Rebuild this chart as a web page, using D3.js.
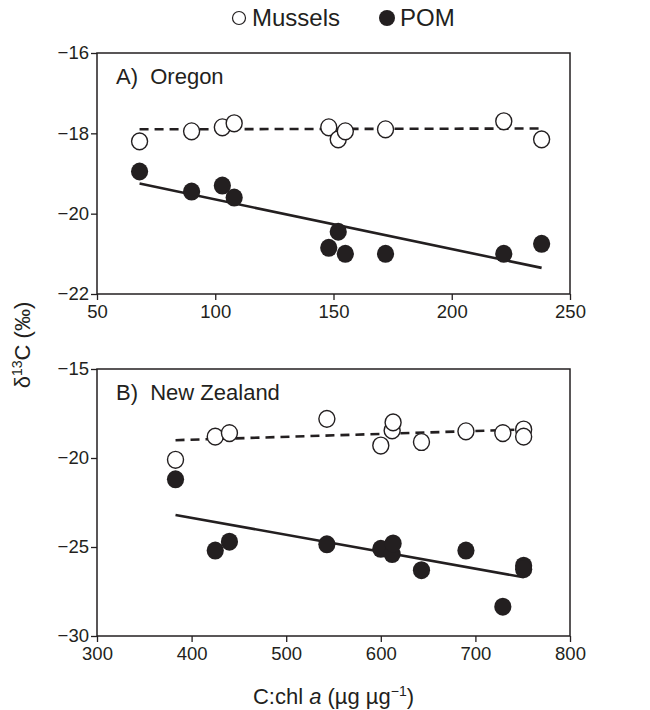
<!DOCTYPE html>
<html>
<head>
<meta charset="utf-8">
<script src="https://cdn.jsdelivr.net/npm/d3@7"></script>
<style>
  body { margin: 0; background: #fff; }
  text { font-family: "Liberation Sans", Arial, sans-serif; fill: #231f20; }
</style>
</head>
<body>
<div id="chart"></div>
<script>
// Panel A: Oregon
var orX = [68, 90, 103, 108, 148, 152, 155, 172, 222, 238];
var orMussels = [-18.2, -17.95, -17.85, -17.75, -17.85, -18.15, -17.95, -17.9, -17.7, -18.15];
var orPOM = [-18.95, -19.45, -19.3, -19.6, -20.85, -20.45, -21.0, -21.0, -21.0, -20.75];
var orMusselFit = [[68, -17.9], [238, -17.88]];
var orPOMFit = [[68, -19.25], [238, -21.35]];

// Panel B: New Zealand
var nzX = [383, 425, 440, 543, 600, 612, 613, 643, 690, 729, 751, 751];
var nzMussels = [-20.1, -18.8, -18.6, -17.8, -19.3, -18.45, -18.0, -19.1, -18.5, -18.6, -18.4, -18.8];
var nzPOM = [-21.2, -25.2, -24.7, -24.85, -25.1, -25.4, -24.8, -26.3, -25.2, -28.35, -26.05, -26.25];
var nzMusselFit = [[383, -19.0], [751, -18.4]];
var nzPOMFit = [[383, -23.2], [751, -26.7]];

var orXTicks = [50, 100, 150, 200, 250];
var orYTicks = [-16, -18, -20, -22];
var nzXTicks = [300, 400, 500, 600, 700, 800];
var nzYTicks = [-15, -20, -25, -30];

var width = 650, height = 710;
var left = 97, right = 570;

var svg = d3.select("#chart").append("svg")
  .attr("width", width)
  .attr("height", height);

function drawPanel(opts) {
  var x = d3.scaleLinear().domain(opts.xDomain).range([left, right]);
  var y = d3.scaleLinear().domain(opts.yDomain).range([opts.bottom, opts.top]);
  var g = svg.append("g");

  // frame
  g.append("rect")
    .attr("x", left).attr("y", opts.top)
    .attr("width", right - left).attr("height", opts.bottom - opts.top)
    .attr("fill", "none").attr("stroke", "#231f20").attr("stroke-width", 1.5);

  var xAxis = g.append("g")
    .attr("transform", "translate(0," + opts.bottom + ")")
    .call(d3.axisBottom(x).tickValues(opts.xTicks).tickSize(6).tickPadding(5).tickFormat(d3.format("d")));
  var yAxis = g.append("g")
    .attr("transform", "translate(" + left + ",0)")
    .call(d3.axisLeft(y).tickValues(opts.yTicks).tickSize(6).tickPadding(2)
      .tickFormat(function (d) { return "\u2212" + Math.abs(d); }));
  [xAxis, yAxis].forEach(function (a) {
    a.select(".domain").remove();
    a.selectAll("line").attr("stroke", "#231f20").attr("stroke-width", 1.3);
    a.selectAll("text").attr("font-size", "18.5px").style("fill", "#231f20")
      .style("font-family", "'Liberation Sans', Arial, sans-serif");
  });

  // panel label
  g.append("text")
    .attr("x", left + 19).attr("y", opts.top + 31)
    .attr("font-size", "22px")
    .attr("xml:space", "preserve")
    .text(opts.label);

  var line = d3.line().x(function (d) { return x(d[0]); }).y(function (d) { return y(d[1]); });

  g.append("path").datum(opts.musselFit)
    .attr("d", line).attr("fill", "none").attr("stroke", "#231f20")
    .attr("stroke-width", 2.6).attr("stroke-dasharray", "9,6");
  g.append("path").datum(opts.pomFit)
    .attr("d", line).attr("fill", "none").attr("stroke", "#231f20")
    .attr("stroke-width", 2.6);

  var mussels = opts.xs.map(function (v, i) { return [v, opts.mussels[i]]; });
  var pom = opts.xs.map(function (v, i) { return [v, opts.pom[i]]; });

  g.selectAll(".mussel").data(mussels).enter().append("ellipse")
    .attr("cx", function (d) { return x(d[0]); })
    .attr("cy", function (d) { return y(d[1]); })
    .attr("rx", 8).attr("ry", 8.4)
    .attr("fill", "#fff").attr("stroke", "#231f20").attr("stroke-width", 1.4);

  g.selectAll(".pom").data(pom).enter().append("ellipse")
    .attr("cx", function (d) { return x(d[0]); })
    .attr("cy", function (d) { return y(d[1]); })
    .attr("rx", 8.6).attr("ry", 9)
    .attr("fill", "#231f20");
}

drawPanel({
  xDomain: [50, 250], yDomain: [-22, -16], top: 53, bottom: 294,
  xTicks: orXTicks, yTicks: orYTicks, label: "A)  Oregon",
  xs: orX, mussels: orMussels, pom: orPOM, musselFit: orMusselFit, pomFit: orPOMFit
});

drawPanel({
  xDomain: [300, 800], yDomain: [-30, -15], top: 369, bottom: 636,
  xTicks: nzXTicks, yTicks: nzYTicks, label: "B)  New Zealand",
  xs: nzX, mussels: nzMussels, pom: nzPOM, musselFit: nzMusselFit, pomFit: nzPOMFit
});

// legend
var legend = svg.append("g");
legend.append("circle").attr("cx", 239).attr("cy", 18).attr("r", 6.5)
  .attr("fill", "#fff").attr("stroke", "#231f20").attr("stroke-width", 1.2);
legend.append("text").attr("x", 252).attr("y", 26).attr("font-size", "24px").text("Mussels");
legend.append("circle").attr("cx", 387).attr("cy", 18).attr("r", 8)
  .attr("fill", "#231f20");
legend.append("text").attr("x", 400).attr("y", 26).attr("font-size", "24px").text("POM");

// y axis title
var yt = svg.append("text")
  .attr("transform", "translate(30,345) rotate(-90)")
  .attr("text-anchor", "middle")
  .attr("font-size", "22px");
yt.append("tspan").text("\u03b4");
yt.append("tspan").attr("font-size", "14px").attr("dy", "-8").text("13");
yt.append("tspan").attr("dy", "8").text("C (\u2030)");

// x axis title
var xt = svg.append("text")
  .attr("x", (left + right) / 2).attr("y", 704)
  .attr("text-anchor", "middle")
  .attr("font-size", "22px");
xt.append("tspan").text("C:chl ");
xt.append("tspan").attr("font-style", "italic").text("a");
xt.append("tspan").text(" (\u00b5g \u00b5g");
xt.append("tspan").attr("font-size", "14px").attr("dy", "-8").text("\u22121");
xt.append("tspan").attr("dy", "8").text(")");
</script>
</body>
</html>
